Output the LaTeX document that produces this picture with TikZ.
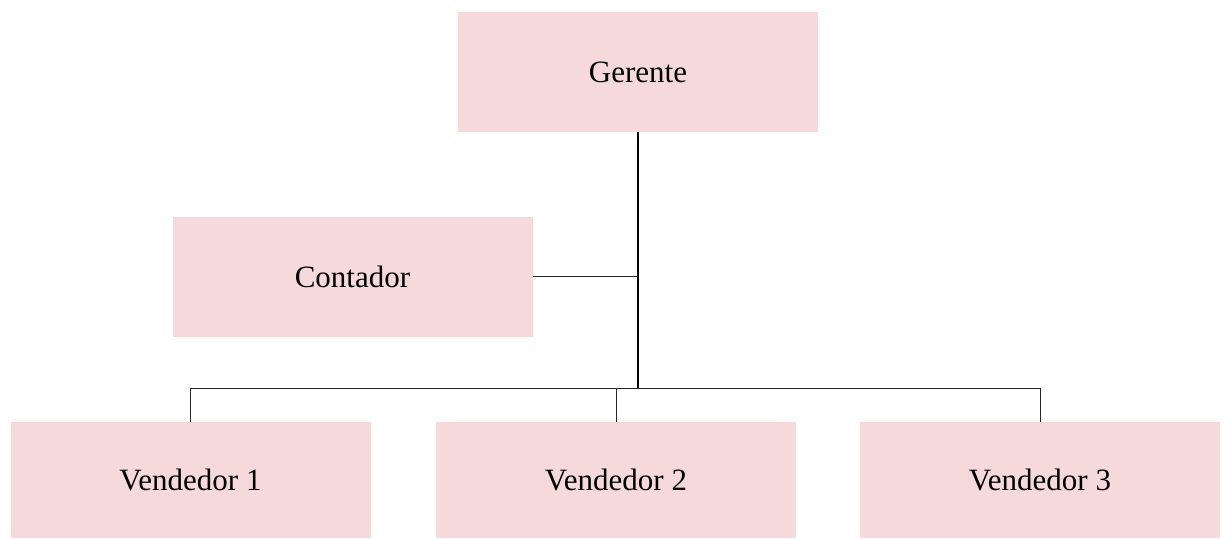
\documentclass[tikz,border=0pt]{standalone}
\usepackage{fontspec}
\setmainfont{Liberation Serif}
\definecolor{boxpink}{HTML}{F6DADB}
\begin{document}
\begin{tikzpicture}[x=1pt,y=-1pt,
  orgbox/.style={fill=boxpink, draw=none, minimum width=360pt, minimum height=120pt,
    inner sep=0pt, font=\fontsize{31}{35}\selectfont},
  link/.style={draw=black!85, line width=1pt},
  trunk/.style={draw=black, line width=1.4pt}]
  \useasboundingbox (0,0) rectangle (1228,538);
  \node[orgbox] (ger) at (638,72) {Gerente};
  \node[orgbox] (con) at (352.5,276.5) {Contador};
  \node[orgbox, minimum height=116pt] (v1) at (190.5,480) {Vendedor 1};
  \node[orgbox, minimum height=116pt] (v2) at (616,480) {Vendedor 2};
  \node[orgbox, minimum height=116pt] (v3) at (1040,480) {Vendedor 3};
  \coordinate (bus) at (638,388);
  % side branch to the accountant
  \draw[link] (con.east) -- (con.east -| ger.south);
  % horizontal bus and drops to each salesperson
  \draw[link] (v1.north) |- (bus);
  \draw[link] (v3.north) |- (bus);
  \draw[link] (v2.north) -- (v2.north |- bus);
  % trunk from the manager down to the sales bus
  \draw[trunk] (ger.south) -- (bus);
\end{tikzpicture}
\end{document}
